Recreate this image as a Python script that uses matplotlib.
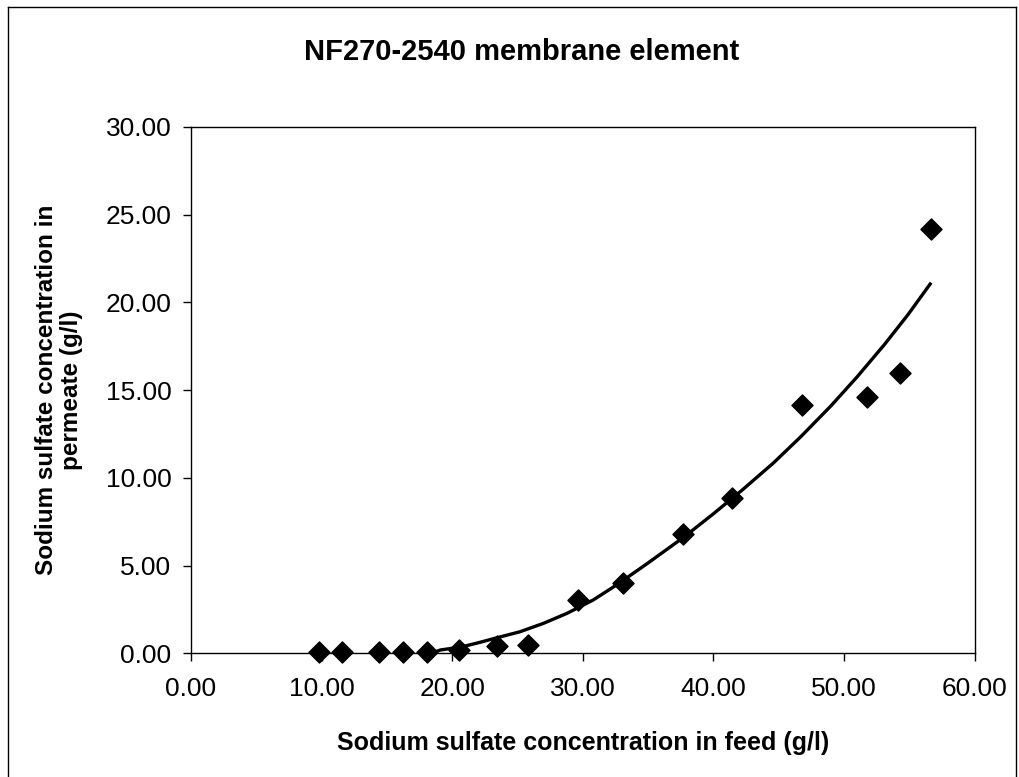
import matplotlib.pyplot as plt
from matplotlib.lines import Line2D

plt.rcParams['font.family'] = ['Liberation Sans', 'DejaVu Sans']

# measured points (feed g/l, permeate g/l)
feed = [9.8, 11.6, 14.4, 16.2, 18.1, 20.5, 23.4, 25.8, 29.6, 33.1, 37.7, 41.4, 46.8, 51.8, 54.3, 56.7]
permeate = [0.05, 0.07, 0.07, 0.07, 0.07, 0.2, 0.4, 0.46, 3.03, 4.02, 6.8, 8.84, 14.17, 14.6, 16.0, 24.2]

# trend line
trend_x = [18.6, 19.1, 20.7, 22.1, 23.5, 25.2, 27.0, 28.8, 30.8, 32.6, 35.0, 37.7, 40.0,
           42.2, 44.6, 46.7, 49.0, 51.0, 53.1, 54.9, 56.6]
trend_y = [0.05, 0.19, 0.36, 0.62, 0.9, 1.23, 1.71, 2.28, 3.04, 3.9, 5.15, 6.6, 7.95,
           9.3, 10.85, 12.35, 14.1, 15.75, 17.6, 19.3, 21.05]

fig = plt.figure(figsize=(10.19, 7.77), dpi=100)
ax = fig.add_axes([0.1874, 0.1592, 0.769, 0.6774])

ax.plot(trend_x, trend_y, color='black', lw=2.4, solid_joinstyle='round')
ax.scatter(feed, permeate, marker='D', s=115, color='black', zorder=3, clip_on=False)

ax.set_xlim(0, 60)
ax.set_ylim(0, 30)
ax.set_xticks(range(0, 61, 10))
ax.set_yticks(range(0, 31, 5))
ax.xaxis.set_major_formatter(lambda v, p: f'{v:.2f}')
ax.yaxis.set_major_formatter(lambda v, p: f'{v:.2f}')
ax.tick_params(direction='out', length=6, width=1, labelsize=19)
ax.tick_params(axis='x', pad=11)
ax.tick_params(axis='y', pad=8)
for s in ax.spines.values():
    s.set_linewidth(1)

fig.text(0.512, 1 - 52 / 777, 'NF270-2540 membrane element', fontsize=21,
         fontweight='bold', ha='center', va='center')
ax.set_xlabel('Sodium sulfate concentration in feed (g/l)', fontsize=18, fontweight='bold', labelpad=22)
ax.set_ylabel('Sodium sulfate concentration in\npermeate (g/l)', fontsize=17.5, fontweight='bold',
              labelpad=16, linespacing=1.15)

# outer chart border
fig.add_artist(Line2D([0.008, 0.008], [0, 0.991], transform=fig.transFigure, color='black', lw=1))
fig.add_artist(Line2D([0.008, 0.997], [0.991, 0.991], transform=fig.transFigure, color='black', lw=1))
fig.add_artist(Line2D([0.997, 0.997], [0, 0.991], transform=fig.transFigure, color='black', lw=1))

fig.savefig('out.png', dpi=100)
